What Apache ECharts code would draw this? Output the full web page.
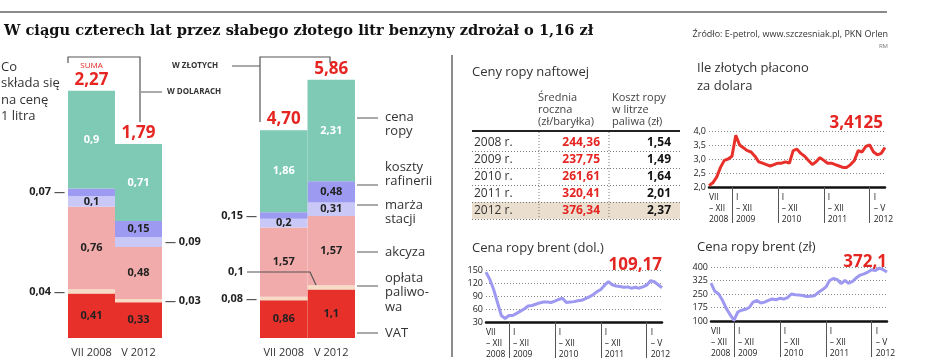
<!DOCTYPE html>
<html>
<head>
<meta charset="utf-8">
<script src="https://cdn.jsdelivr.net/npm/echarts@6/dist/echarts.min.js"></script>
<style>
  html, body { margin: 0; background: #fff; }
  #chart { width: 936px; height: 360px; }
</style>
</head>
<body>
<div id="chart"></div>
<script>
var SANS = '"Open Sans", "Noto Sans", sans-serif';
var RED = '#e52521';

// skladniki ceny litra benzyny (od dolu)
var parts = ['VAT', 'opłata paliwowa', 'akcyza', 'marża stacji', 'koszty rafinerii', 'cena ropy'];
var partColors = ['#e8302b', '#f6dcc4', '#f2abab', '#cac8f6', '#9c9af1', '#7ecab5'];
var barCats = ['VII 2008', 'V 2012'];
var usd2008 = [0.41, 0.04, 0.76, 0.1, 0.07, 0.9];
var usd2012 = [0.33, 0.03, 0.48, 0.09, 0.15, 0.71];
var pln2008 = [0.86, 0.08, 1.57, 0.2, 0.15, 1.86];
var pln2012 = [1.1, 0.1, 1.57, 0.31, 0.48, 2.31];
var usdTotals = [2.27, 1.79];
var plnTotals = [4.70, 5.86];

// tabela: ceny ropy naftowej
var tableYears = ['2008 r.', '2009 r.', '2010 r.', '2011 r.', '2012 r.'];
var tableAvg = ['244,36', '237,75', '261,61', '320,41', '376,34'];
var tableCost = ['1,54', '1,49', '1,64', '2,01', '2,37'];

// wykresy liniowe, dane miesieczne VII 2008 - V 2012
var periodLabels = ['VII\n– XII\n2008', 'I\n– XII\n2009', 'I\n– XII\n2010', 'I\n– XII\n2011', 'I\n– V\n2012'];
var periodStarts = [0, 6, 18, 30, 42];
var yearStarts = [6, 18, 30, 42];
var usdPln = [2.05, 2.15, 2.35, 2.7, 2.95, 3.0, 3.1, 3.85, 3.5, 3.4, 3.3, 3.25, 3.1, 2.9, 2.85, 2.8, 2.75, 2.8,
  2.85, 2.85, 2.9, 2.85, 3.3, 3.35, 3.2, 3.1, 2.95, 2.8, 2.9, 3.05, 2.95, 2.85, 2.85, 2.8, 2.75, 2.7,
  2.7, 2.8, 2.95, 3.3, 3.25, 3.45, 3.5, 3.25, 3.15, 3.2, 3.4125];
var brentUsd = [145, 128, 105, 75, 45, 38, 45, 45, 50, 55, 60, 67, 68, 71, 74, 76, 76, 75, 78, 82, 85, 75,
  76, 77, 79, 80, 84, 88, 93, 100, 105, 115, 123, 116, 113, 112, 110, 111, 108, 110, 108, 111, 115, 125,
  123, 116, 109.17];
var brentPln = [310, 265, 250, 215, 170, 135, 104, 150, 160, 165, 175, 205, 214, 200, 205, 215, 222, 218,
  226, 222, 230, 250, 246, 244, 242, 236, 238, 240, 258, 272, 288, 325, 336, 330, 308, 325, 310, 320, 340,
  355, 362, 372, 385, 380, 394, 385, 372.1];

var romans = ['I', 'II', 'III', 'IV', 'V', 'VI', 'VII', 'VIII', 'IX', 'X', 'XI', 'XII'];
var months = [];
for (var k = 0; k < usdPln.length; k++) {
  var m = 6 + k;
  months.push(romans[m % 12] + ' ' + (2008 + Math.floor(m / 12)));
}

function fmt(v) { return String(v).replace('.', ','); }

function buildBars(stack, axisIdx, vals2008, vals2012, totals, minInside, rightFree) {
  var list = parts.map(function (name, i) {
    var data = [vals2008[i], vals2012[i]].map(function (v, j) {
      var item = { value: v };
      if (v < minInside) {
        if (j === 1 && !rightFree) item.label = { show: false };
        else item.label = { position: j === 0 ? 'left' : 'right', distance: 3 };
      }
      return item;
    });
    return {
      type: 'bar', name: name, stack: stack, xAxisIndex: axisIdx, yAxisIndex: axisIdx,
      barWidth: '100%', silent: true, data: data,
      itemStyle: { color: partColors[i] },
      label: {
        show: true, fontFamily: SANS, fontSize: 11, fontWeight: 'bold',
        color: i === 5 ? '#fff' : '#222',
        formatter: function (p) {
          var s = fmt(p.value);
          if (p.value >= minInside) return s;
          return p.dataIndex === 0 ? '{v|' + s + '} {a|—}' : '{a|—} {v|' + s + '}';
        },
        rich: {
          v: { fontFamily: SANS, fontSize: 11, fontWeight: 'bold', color: '#222' },
          a: { fontFamily: SANS, fontSize: 11, color: '#555' }
        }
      }
    };
  });
  // suma nad slupkiem
  list.push({
    type: 'bar', stack: stack, xAxisIndex: axisIdx, yAxisIndex: axisIdx, silent: true,
    data: [0, 0], itemStyle: { color: 'transparent' },
    label: {
      show: true, position: 'top', distance: 2,
      formatter: function (p) {
        var t = totals[p.dataIndex].toFixed(2).replace('.', ',');
        return (axisIdx === 0 && p.dataIndex === 0) ? '{s|SUMA}\n{t|' + t + '}' : '{t|' + t + '}';
      },
      rich: {
        s: { fontFamily: SANS, fontSize: 8, color: RED, lineHeight: 11 },
        t: { fontFamily: SANS, fontSize: 17, fontWeight: 'bold', color: RED, lineHeight: 18 }
      }
    }
  });
  return list;
}

var tickRich = {
  a: { fontFamily: SANS, fontSize: 8.5, lineHeight: 11, color: '#222' },
  b: { fontFamily: SANS, fontSize: 8.5, lineHeight: 11, color: '#222', padding: [0, 0, 0, 4] }
};

function lineAxes(g, min, max, step, dec) {
  return {
    x: {
      type: 'category', gridIndex: g, data: months, boundaryGap: false,
      axisLine: { lineStyle: { color: '#111', width: 2.5 } },
      axisTick: {
        show: true, length: 36, lineStyle: { color: '#555', width: 1 },
        interval: function (idx) { return yearStarts.indexOf(idx) >= 0; }
      },
      axisLabel: {
        interval: function (idx) { return periodStarts.indexOf(idx) >= 0; },
        formatter: function (v, idx) {
          var tag = idx === 0 ? 'a' : 'b';
          return periodLabels[periodStarts.indexOf(idx)].split('\n').map(function (l) {
            return '{' + tag + '|' + l + '}';
          }).join('\n');
        },
        rich: tickRich,
        showMinLabel: true, hideOverlap: false,
        align: 'left', margin: 5,
        fontFamily: SANS, fontSize: 8.5, lineHeight: 11, color: '#222'
      }
    },
    y: {
      type: 'value', gridIndex: g, min: min, max: max, interval: step,
      axisLine: { show: false }, axisTick: { show: false },
      splitLine: { lineStyle: { type: [1, 2], color: '#888' } },
      axisLabel: {
        fontFamily: SANS, fontSize: 9, color: '#222', margin: 3,
        formatter: function (v) { return dec ? v.toFixed(1).replace('.', ',') : String(v); }
      }
    }
  };
}

function lineSeries(g, data, color) {
  return {
    type: 'line', xAxisIndex: g, yAxisIndex: g, data: data, symbol: 'none', silent: true,
    lineStyle: { color: color, width: 3 }
  };
}

var ax2 = lineAxes(2, 2, 4, 0.5, true);
var ax3 = lineAxes(3, 30, 150, 30, false);
var ax4 = lineAxes(4, 100, 400, 75, false);

// elementy graficzne: tytul, opisy, tabela
var gfx = [];
function txt(x, y, s, st) {
  var style = { text: s, font: '13px ' + SANS, fill: '#333', verticalAlign: 'middle' };
  for (var key in st) style[key] = st[key];
  gfx.push({ type: 'text', x: x, y: y, silent: true, z: 10, style: style });
}
function ln(x1, y1, x2, y2, st) {
  var style = { stroke: '#555', lineWidth: 1 };
  for (var key in st) style[key] = st[key];
  gfx.push({ type: 'line', silent: true, z: 10, shape: { x1: x1, y1: y1, x2: x2, y2: y2 }, style: style });
}
function poly(pts) {
  gfx.push({ type: 'polyline', silent: true, z: 10, shape: { points: pts }, style: { stroke: '#555', lineWidth: 1.2, fill: 'none' } });
}

ln(0, 12, 887, 12, { stroke: '#8a8a8a', lineWidth: 2 });
txt(4, 31, 'W ciągu czterech lat przez słabego złotego litr benzyny zdrożał o 1,16 zł',
  { font: 'bold 14.6px "DejaVu Serif", serif', fill: '#111' });
txt(888, 34, 'Źródło: E-petrol, www.szczesniak.pl, PKN Orlen', { font: '9px ' + SANS, align: 'right', fill: '#333' });
txt(888, 46, 'RM', { font: '6px ' + SANS, align: 'right', fill: '#777' });

txt(1, 59, 'Co\nskłada się\nna cenę\n1 litra', { verticalAlign: 'top', lineHeight: 16.5 });

// klamry
poly([[68, 63], [68, 57], [140, 57], [140, 122]]);
ln(141, 92, 162, 92);
txt(167, 92, 'W DOLARACH', { font: 'bold 8px ' + SANS, fill: '#333' });
txt(172, 66, 'W ZŁOTYCH', { font: 'bold 8px ' + SANS, fill: '#333' });
ln(232, 66, 260, 66);
poly([[260, 122], [260, 57], [330, 57], [330, 63]]);

// opisy skladnikow
var legendText = ['cena\nropy', 'koszty\nrafinerii', 'marża\nstacji', 'akcyza', 'opłata\npaliwo-\nwa', 'VAT'];
var legendTop = [110, 160, 198, 245, 271, 326];
var legendLine = [118, 185, 205, 252, 286, 333];
legendText.forEach(function (s, i) {
  ln(357, legendLine[i], 378, legendLine[i]);
  txt(385, legendTop[i], s, { verticalAlign: 'top', lineHeight: 14.5 });
});
txt(228, 272, '0,1', { font: 'bold 11px ' + SANS, fill: '#222' });
poly([[247, 272], [310, 272], [316, 285]]);

ln(452, 55, 452, 357, { stroke: '#666', lineWidth: 1.5 });

// tabela
txt(472, 72, 'Ceny ropy naftowej');
txt(538, 92, 'Średnia\nroczna\n(zł/baryłka)', { font: '11px ' + SANS, lineHeight: 12, fill: '#444', verticalAlign: 'top' });
txt(612, 92, 'Koszt ropy\nw litrze\npaliwa (zł)', { font: '11px ' + SANS, lineHeight: 12, fill: '#444', verticalAlign: 'top' });
gfx.push({ type: 'rect', silent: true, z: 1, shape: { x: 472, y: 202, width: 208, height: 17 }, style: { fill: '#eadfcf' } });
ln(472, 131, 680, 131, { stroke: '#222', lineWidth: 2 });
tableYears.forEach(function (yr, i) {
  var y = 143 + i * 17;
  txt(474, y, yr, { font: '12px ' + SANS, fill: '#333' });
  txt(600, y, tableAvg[i], { font: 'bold 12px ' + SANS, fill: RED, align: 'right' });
  txt(671, y, tableCost[i], { font: 'bold 12px ' + SANS, fill: '#111', align: 'right' });
  ln(472, y + 8.5, 680, y + 8.5, { stroke: '#777', lineDash: [1, 2] });
});
ln(539, 132, 539, 219, { stroke: '#777', lineDash: [1, 2] });
ln(609, 132, 609, 219, { stroke: '#777', lineDash: [1, 2] });

// tytuly wykresow liniowych
txt(697, 77, 'Ile złotych płacono\nza dolara', { lineHeight: 18, verticalAlign: 'middle' });
txt(883, 123, fmt(usdPln[usdPln.length - 1]), { font: 'bold 17px ' + SANS, fill: RED, align: 'right' });
txt(472, 248, 'Cena ropy brent (dol.)');
txt(662, 265, fmt(brentUsd[brentUsd.length - 1]), { font: 'bold 17px ' + SANS, fill: RED, align: 'right' });
txt(697, 247, 'Cena ropy brent (zł)');
txt(887, 262, fmt(brentPln[brentPln.length - 1]), { font: 'bold 17px ' + SANS, fill: RED, align: 'right' });

var barX = function (g) {
  return {
    type: 'category', gridIndex: g, data: barCats,
    axisLine: { show: false }, axisTick: { show: false },
    axisLabel: { interval: 0, hideOverlap: false, fontFamily: SANS, fontSize: 11, color: '#333', margin: 9 }
  };
};
var barY = function (g, max) {
  return { type: 'value', gridIndex: g, min: 0, max: max, show: false };
};

var chart = echarts.init(document.getElementById('chart'), null, { renderer: 'canvas' });
var option = {
  backgroundColor: '#fff',
  animation: false,
  grid: [
    { left: 68, top: 67, width: 94, height: 271 },
    { left: 260, top: 74, width: 95, height: 264 },
    { left: 709, top: 131, width: 176, height: 56 },
    { left: 486, top: 270, width: 176, height: 55 },
    { left: 711, top: 267, width: 176, height: 54 }
  ],
  xAxis: [barX(0), barX(1), ax2.x, ax3.x, ax4.x],
  yAxis: [barY(0, 2.5), barY(1, 6), ax2.y, ax3.y, ax4.y],
  series: buildBars('usd', 0, usd2008, usd2012, usdTotals, 0.095, true)
    .concat(buildBars('pln', 1, pln2008, pln2012, plnTotals, 0.16, false))
    .concat([
      lineSeries(2, usdPln, '#e8302b'),
      lineSeries(3, brentUsd, '#9d98f0'),
      lineSeries(4, brentPln, '#9d98f0')
    ]),
  graphic: { elements: gfx }
};
chart.setOption(option);
</script>
</body>
</html>
